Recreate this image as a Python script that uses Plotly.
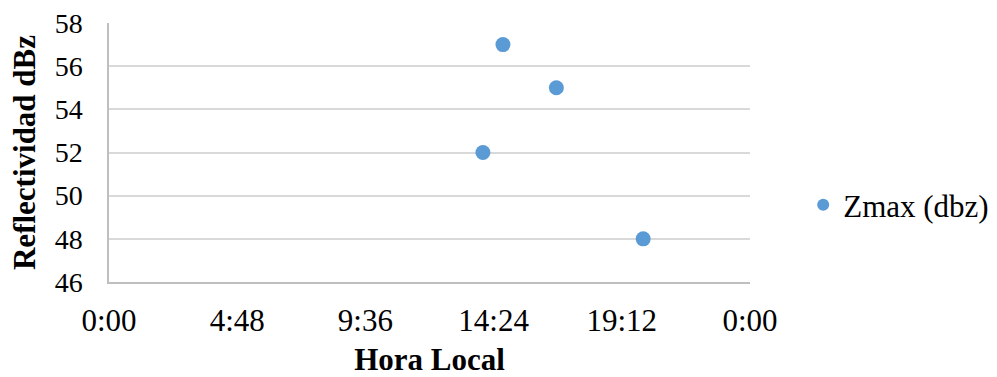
import plotly.graph_objects as go

# Data
hora_local = ["14:45", "16:45", "14:00", "20:00"]
zmax_dbz = [57, 55, 52, 48]

tick_labels = ["0:00", "4:48", "9:36", "14:24", "19:12", "0:00"]
tick_fracs = [0, 0.2, 0.4, 0.6, 0.8, 1.0]


def to_day_fraction(hhmm):
    h, m = hhmm.split(":")
    return (int(h) + int(m) / 60.0) / 24.0


x_vals = [to_day_fraction(t) for t in hora_local]

FONT = "Liberation Serif, Times New Roman, serif"
BLUE = "#5b9bd5"

fig = go.Figure()
fig.add_trace(go.Scatter(
    x=x_vals, y=zmax_dbz, mode="markers", name="Zmax (dbz)", showlegend=False,
    marker=dict(color=BLUE, size=15, line=dict(width=0)),
))
# legend entry (smaller marker, as in the original legend)
fig.add_trace(go.Scatter(
    x=[None], y=[None], mode="markers", name="Zmax (dbz)", showlegend=True,
    marker=dict(color=BLUE, size=12, line=dict(width=0)),
))

fig.update_layout(
    width=997, height=377,
    margin=dict(l=109, r=247, t=23, b=95, autoexpand=False),
    paper_bgcolor="white", plot_bgcolor="white",
    font=dict(family=FONT, color="black", size=28),
    showlegend=True,
    legend=dict(x=1.083, y=0.297, xanchor="left", yanchor="middle",
                font=dict(family=FONT, size=31, color="black"),
                itemwidth=30, tracegroupgap=0, bgcolor="rgba(0,0,0,0)"),
)

fig.update_xaxes(
    range=[0, 1], tickmode="array", tickvals=tick_fracs, ticktext=tick_labels,
    showgrid=False, zeroline=False, showline=True, linecolor="#bfbfbf", linewidth=1.5,
    ticks="", ticklabelstandoff=10,
    tickfont=dict(family=FONT, size=31, color="black"),
    title=dict(text="Hora Local", font=dict(family=FONT, size=31, color="black", weight="bold"), standoff=17),
)
fig.update_yaxes(
    range=[46, 58], dtick=2, tick0=46,
    showgrid=True, gridcolor="#d9d9d9", gridwidth=1.5, zeroline=False,
    showline=True, linecolor="#bfbfbf", linewidth=1.5,
    ticks="", ticklabelstandoff=19,
    tickfont=dict(family=FONT, size=28, color="black"),
    title=dict(text="Reflectividad dBz", font=dict(family=FONT, size=31, color="black", weight="bold"), standoff=10),
)

fig.write_html("out.html")
